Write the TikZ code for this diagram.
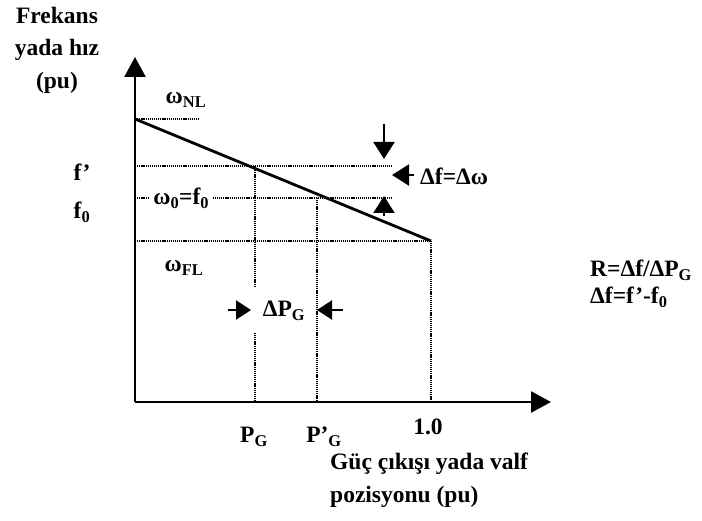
\documentclass[tikz,border=0pt]{standalone}
\usepackage{fontspec}
\setmainfont{Liberation Serif}
\usetikzlibrary{positioning, arrows.meta}

\begin{document}
\begin{tikzpicture}[x=1pt, y=-1pt,
  axis/.style={line width=2.6pt, -{Triangle[length=20pt, width=21pt]}},
  guide/.style={line width=1.6pt, dash pattern=on 1.2pt off 0.9pt},
  droop/.style={line width=2.8pt},
  marker/.style={line width=2.2pt, -{Triangle[length=17pt, width=21pt]}},
  lbl/.style={inner sep=0pt, font=\fontsize{23.5}{32.5}\selectfont\bfseries}
]
  \useasboundingbox (0,0) rectangle (702,521);

  % axes
  \coordinate (O)    at (135,402);
  \coordinate (ytop) at (135,57);
  \coordinate (xend) at (551,402);
  \draw[axis] (O) -- (ytop);
  \draw[axis] (O) -- (xend);

  % droop characteristic
  \coordinate (nl) at (135,119);
  \coordinate (fl) at (431,241);
  \draw[droop] (nl) -- (fl);

  % levels
  \coordinate (nlE) at (200,119);
  \coordinate (fpW) at (135,166);
  \coordinate (fpE) at (392,166);
  \coordinate (f0W) at (135,198);
  \coordinate (f0E) at (392,198);
  \coordinate (flW) at (135,241);
  \draw[guide] (nl) -- (nlE);
  \draw[guide] (fpW) -- (fpE);
  \draw[guide] (f0W) -- node[lbl, pos=0.18, fill=white, inner xsep=3pt]
    (w0) {ω\textsubscript{0}=f\textsubscript{0}} (f0E);
  \draw[guide] (flW) -- (fl);

  % verticals
  \coordinate (pgT) at (255,166);
  \coordinate (pgM) at (255,287);
  \coordinate (pgN) at (255,333);
  \coordinate (pgB) at (255,402);
  \coordinate (ppT) at (317,198);
  \coordinate (ppB) at (317,402);
  \coordinate (onB) at (431,402);
  \draw[guide] (pgT) -- (pgM);
  \draw[guide] (pgN) -- (pgB);
  \draw[guide] (ppT) -- (ppB);
  \draw[guide] (fl) -- (onB);

  % delta f markers
  \coordinate (dnA) at (384,124);
  \coordinate (dnB) at (384,159);
  \coordinate (upA) at (384,216);
  \coordinate (upB) at (384,196);
  \coordinate (lfA) at (414,175);
  \coordinate (lfB) at (392,175);
  \draw[marker] (dnA) -- (dnB);
  \draw[marker] (upA) -- (upB);
  \draw[marker] (lfA) -- (lfB);

  % delta P markers
  \coordinate (rtA) at (228,310);
  \coordinate (rtB) at (251,310);
  \coordinate (ltA) at (343,310);
  \coordinate (ltB) at (317,310);
  \draw[marker, -{Triangle[length=15pt, width=19pt]}] (rtA) -- (rtB);
  \draw[marker, -{Triangle[length=15pt, width=19pt]}] (ltA) -- (ltB);

  % labels
  \node[lbl, align=center] (yname) at (57,50) {Frekans\\yada hız\\(pu)};
  \node[lbl] (wnl) at (186,100) {ω\textsubscript{NL}};
  \node[lbl] (fprime) at (82,172) {f’};
  \node[lbl] (fzero) at (82,212) {f\textsubscript{0}};
  \node[lbl] (wfl) at (184,268) {ω\textsubscript{FL}};
  \node[lbl, anchor=west] (df) at (420,176) {Δf=Δω};
  \node[lbl] (dpg) at (284,311) {ΔP\textsubscript{G}};
  \node[lbl] (pg) at (254,437) {P\textsubscript{G}};
  \node[lbl] (ppg) at (324,437) {P’\textsubscript{G}};
  \node[lbl] (one) at (428,427) {1.0};
  \node[lbl, align=left, anchor=north west] (xname) at (330,453)
    {Güç çıkışı yada valf\\pozisyonu (pu)};
  \node[lbl, anchor=west] (req) at (590,270) {R=Δf/ΔP\textsubscript{G}};
  \node[lbl, anchor=west] (dfeq) at (590,297) {Δf=f’-f\textsubscript{0}};
\end{tikzpicture}
\end{document}
